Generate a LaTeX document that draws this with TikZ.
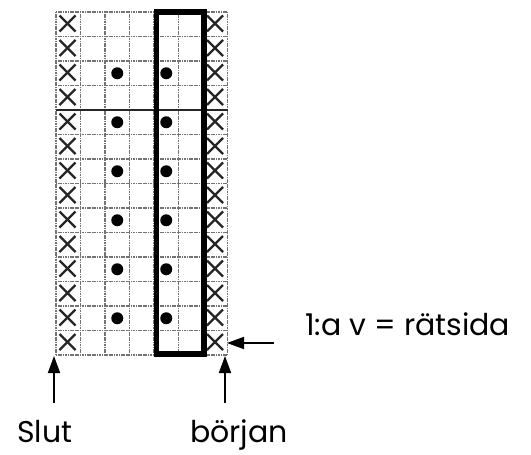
\documentclass[tikz,border=0pt]{standalone}
\usepackage{fontspec}
\setmainfont{Poppins}
\usetikzlibrary{arrows.meta}

\tikzset{
  gridline/.style={black!55, line width=1.1pt, dash pattern=on 1.2pt off 0.5pt},
  xmark/.style={black!85, line width=2.4pt},
  dot/.style={circle, fill=black, inner sep=0pt, minimum size=12pt},
  pointer/.style={-{Triangle[length=17pt,width=12pt]}, line width=1.8pt},
  caption/.style={anchor=base west, inner sep=0pt, font=\fontsize{30}{35}\selectfont}
}

\begin{document}
\begin{tikzpicture}[x=1pt,y=-1pt]
\useasboundingbox (0,0) rectangle (531,455);

% chart grid, 7 stitches x 14 rows
\foreach \i in {0,...,7} \draw[gridline] (56+\i*24.5,12) -- (56+\i*24.5,355);
\foreach \j in {0,...,14} \draw[gridline] (56,12+\j*24.5) -- (227.5,12+\j*24.5);

% edge stitches
\foreach \j in {0,...,13}
  \foreach \cx in {67.5,215} {
    \draw[xmark] (\cx-8,23.5+\j*24.5-8) -- (\cx+8,23.5+\j*24.5+8);
    \draw[xmark] (\cx-8,23.5+\j*24.5+8) -- (\cx+8,23.5+\j*24.5-8);
  }

% purl dots
\foreach \j in {2,4,...,12} {
  \node[dot] (d3-\j) at (117.25,24.25+\j*24.5) {};
  \node[dot] (d5-\j) at (166.25,24.25+\j*24.5) {};
}

% repeat line and pattern box
\draw[black!85, line width=2.6pt] (56,110) -- (227.5,110);
\draw[line width=5.5pt] (156.5,12) rectangle (204,354);

% texts
\node[caption] (rs) at (305,335) {1:a v = rätsida};
\node[caption] (slut) at (17,442) {Slut};
\node[caption] (borjan) at (190,442) {början};

% arrows
\coordinate (slutfoot) at (54,403);
\coordinate (slutpt) at (54,356);
\coordinate (borjanfoot) at (225,403);
\coordinate (borjanpt) at (225,356);
\coordinate (rsfoot) at (274,343);
\coordinate (rspt) at (227,343);
\draw[pointer] (slutfoot) -- (slutpt);
\draw[pointer] (borjanfoot) -- (borjanpt);
\draw[pointer] (rsfoot) -- (rspt);
\end{tikzpicture}
\end{document}
